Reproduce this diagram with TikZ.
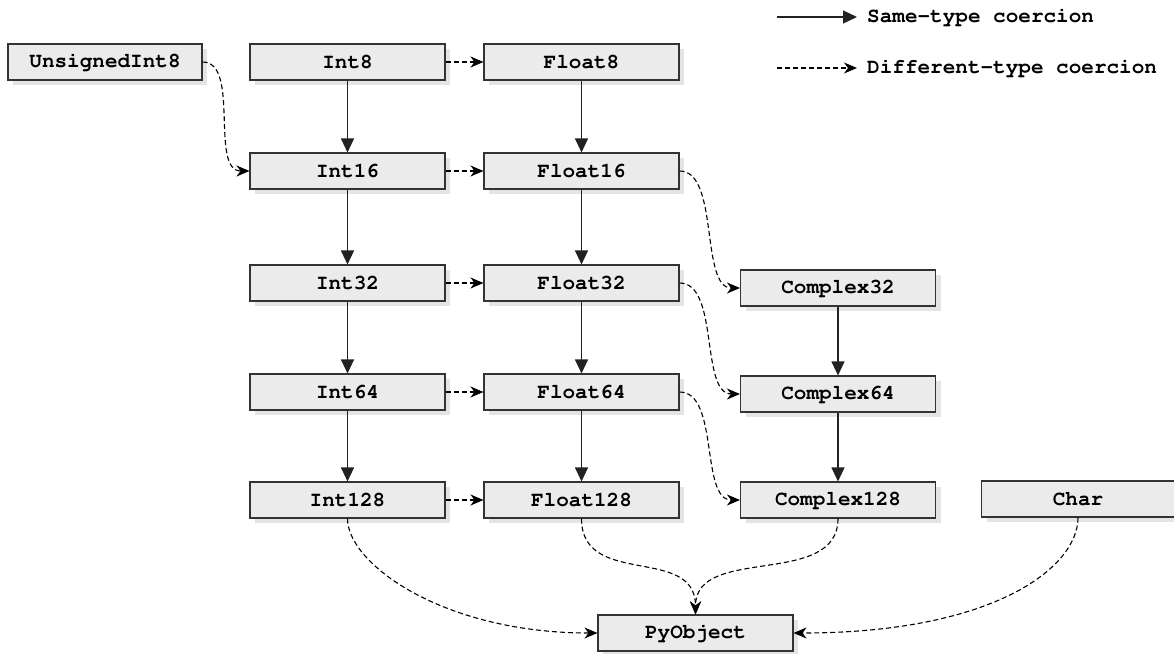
\documentclass[tikz,border=0pt]{standalone}
\usepackage[T1]{fontenc}
\usetikzlibrary{arrows.meta,shadows}
\definecolor{boxfill}{HTML}{EBEBEB}
\definecolor{boxline}{HTML}{333333}
\definecolor{shadowc}{HTML}{E4E4E4}
\definecolor{edgec}{HTML}{222222}
\newcommand{\cfont}{\fontencoding{T1}\fontfamily{pcr}\fontseries{b}\fontshape{n}\fontsize{21}{24}\selectfont}
\begin{document}
\begin{tikzpicture}[x=1pt,y=-1pt,
  tbox/.style={draw=boxline,line width=1.1pt,fill=boxfill,minimum width=195pt,minimum height=36pt,inner sep=0pt,
    font=\cfont,
    drop shadow={shadow xshift=5pt,shadow yshift=-5pt,fill=shadowc,opacity=1}},
  legtext/.style={anchor=west,inner sep=0pt,font=\cfont},
  same/.style={line width=1.1pt,draw=edgec,-{Triangle[length=14pt,width=13pt]}},
  diff/.style={line width=1.1pt,draw=black,dash pattern=on 5pt off 3pt,-{Stealth[length=13pt,width=11pt,inset=4pt]}}]
\useasboundingbox (0,0) rectangle (1174,653);

% nodes
\node[tbox,minimum width=194pt] (u8) at (105,62) {UnsignedInt8};
\node[tbox] (i8) at (347.5,62) {Int8};
\node[tbox] (f8) at (581.5,62) {Float8};
\node[tbox] (i16) at (347.5,171) {Int16};
\node[tbox] (f16) at (581.5,171) {Float16};
\node[tbox] (i32) at (347.5,283) {Int32};
\node[tbox] (f32) at (581.5,283) {Float32};
\node[tbox] (i64) at (347.5,392) {Int64};
\node[tbox] (f64) at (581.5,392) {Float64};
\node[tbox] (i128) at (347.5,500) {Int128};
\node[tbox] (f128) at (581.5,500) {Float128};
\node[tbox] (c32) at (838,288) {Complex32};
\node[tbox] (c64) at (838,394) {Complex64};
\node[tbox] (c128) at (838,500) {Complex128};
\node[tbox,minimum width=193pt] (ch) at (1078,499) {Char};
\node[tbox] (py) at (695.5,633) {PyObject};

% legend
\coordinate (l1s) at (777,17);
\coordinate (l1e) at (857,17);
\coordinate (l2s) at (777,68);
\coordinate (l2e) at (857,68);
\node[legtext] (t1) at (867,17) {Same-type coercion};
\node[legtext] (t2) at (867,68) {Different-type coercion};
\draw[same] (l1s) -- (l1e);
\draw[diff] (l2s) -- (l2e);

% same-type
\draw[same] (i8) -- (i16);
\draw[same] (i16) -- (i32);
\draw[same] (i32) -- (i64);
\draw[same] (i64) -- (i128);
\draw[same] (f8) -- (f16);
\draw[same] (f16) -- (f32);
\draw[same] (f32) -- (f64);
\draw[same] (f64) -- (f128);
\draw[same] (c32) -- (c64);
\draw[same] (c64) -- (c128);

% different-type
\draw[diff] (i8) -- (f8);
\draw[diff] (i16) -- (f16);
\draw[diff] (i32) -- (f32);
\draw[diff] (i64) -- (f64);
\draw[diff] (i128) -- (f128);
\draw[diff] (u8.east) .. controls +(38,0) and +(-40,0) .. (i16.west);
\draw[diff] (f16.east) .. controls +(40,0) and +(-40,0) .. (c32.west);
\draw[diff] (f32.east) .. controls +(40,0) and +(-40,0) .. (c64.west);
\draw[diff] (f64.east) .. controls +(40,0) and +(-40,0) .. (c128.west);
\draw[diff] (i128.south) .. controls +(0,45) and +(-155,0) .. (py.west);
\draw[diff] (f128.south) .. controls +(0,70) and +(0,-70) .. (py.north);
\draw[diff] (c128.south) .. controls +(0,70) and +(0,-70) .. (py.north);
\draw[diff] (ch.south) .. controls +(0,50) and +(200,0) .. (py.east);
\end{tikzpicture}
\end{document}
